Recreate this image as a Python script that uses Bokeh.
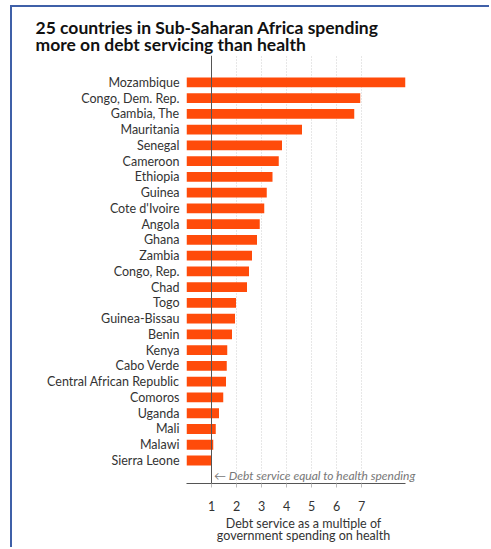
from bokeh.plotting import figure
from bokeh.models import Range1d, FixedTicker, Span, Label, ColumnDataSource
from bokeh.embed import file_html
from bokeh.resources import INLINE

countries = [
    "Mozambique", "Congo, Dem. Rep.", "Gambia, The", "Mauritania", "Senegal",
    "Cameroon", "Ethiopia", "Guinea", "Cote d'Ivoire", "Angola", "Ghana",
    "Zambia", "Congo, Rep.", "Chad", "Togo", "Guinea-Bissau", "Benin", "Kenya",
    "Cabo Verde", "Central African Republic", "Comoros", "Uganda", "Mali",
    "Malawi", "Sierra Leone",
]
values = [
    8.75, 6.95, 6.71, 4.62, 3.82, 3.69, 3.44, 3.21, 3.11, 2.93, 2.82,
    2.62, 2.50, 2.42, 1.98, 1.94, 1.82, 1.63, 1.61, 1.58, 1.47, 1.30, 1.17,
    1.07, 1.00,
]
x_ticks = [1, 2, 3, 4, 5, 6, 7]
grid_ticks = [2, 3, 4, 5, 6, 7]
axis_extent = (0, 8.75)

n = len(countries)
rows = [n - 1 - i for i in range(n)]
src = ColumnDataSource(dict(country=countries, value=values, row=rows))

FONT = "Lato"

p = figure(
    width=479, height=542, output_backend="svg", toolbar_location=None,
    x_range=Range1d(0, 9.36), y_range=Range1d(-1.46, 25.71),
    min_border_left=174, min_border_right=71, min_border_top=48,
    min_border_bottom=66,
    styles={"margin-left": "10px", "margin-top": "5px",
            "border-left": "2px solid #3f60a8", "border-top": "2px solid #3f60a8"},
)
p.outline_line_color = None
p.background_fill_color = "white"
p.border_fill_color = "white"

p.hbar(y="row", left=0, right="value", height=0.62, source=src,
       fill_color="#ff4b0a", line_color=None)

# grid
p.ygrid.visible = False
p.xgrid.ticker = FixedTicker(ticks=grid_ticks)
p.xgrid.grid_line_color = "#cfcfcf"
p.xgrid.grid_line_dash = "1 2"
p.xgrid.grid_line_width = 1

p.add_layout(Span(location=1, dimension="height", line_color="#555555", line_width=1))

# x axis
p.xaxis.ticker = FixedTicker(ticks=x_ticks)
p.xaxis.bounds = axis_extent
p.xaxis.axis_line_color = "#555555"
p.xaxis.major_tick_line_color = "#bbbbbb"
p.xaxis.major_tick_in = 0
p.xaxis.major_tick_out = 4
p.xaxis.minor_tick_line_color = None
p.xaxis.major_label_text_font = FONT
p.xaxis.major_label_text_font_size = "12.5px"
p.xaxis.major_label_text_color = "#333333"
p.xaxis.major_label_standoff = 13
p.xaxis.axis_label = "Debt service as a multiple of\ngovernment spending on health"
p.xaxis.axis_label_text_font = FONT
p.xaxis.axis_label_text_font_style = "normal"
p.xaxis.axis_label_text_font_size = "12.5px"
p.xaxis.axis_label_text_color = "#333333"
p.xaxis.axis_label_text_line_height = 0.85
p.xaxis.axis_label_standoff = 2

# y axis
p.yaxis.ticker = FixedTicker(ticks=rows)
p.yaxis.major_label_overrides = {r: c for r, c in zip(rows, countries)}
p.yaxis.axis_line_color = None
p.yaxis.major_tick_line_color = None
p.yaxis.minor_tick_line_color = None
p.yaxis.major_tick_in = 0
p.yaxis.major_tick_out = 0
p.yaxis.major_label_standoff = 7
p.yaxis.major_label_text_font = FONT
p.yaxis.major_label_text_font_size = "12.5px"
p.yaxis.major_label_text_color = "#333333"

# annotation
p.add_layout(Label(x=1.1, y=-0.95, text="\u2190 Debt service equal to health spending",
                   text_font=FONT, text_font_style="italic", text_font_size="12px",
                   text_color="#777777", text_baseline="middle"))

# title
p.title.text = "25 countries in Sub-Saharan Africa spending\nmore on debt servicing than health"
p.title.align = "left"
p.title.offset = -151
p.title.standoff = 0
p.title.text_font = FONT
p.title.text_font_style = "bold"
p.title.text_font_size = "17.5px"
p.title.text_line_height = 0.85
p.title.text_color = "#111111"

open("out.html", "w").write(file_html(p, INLINE))
